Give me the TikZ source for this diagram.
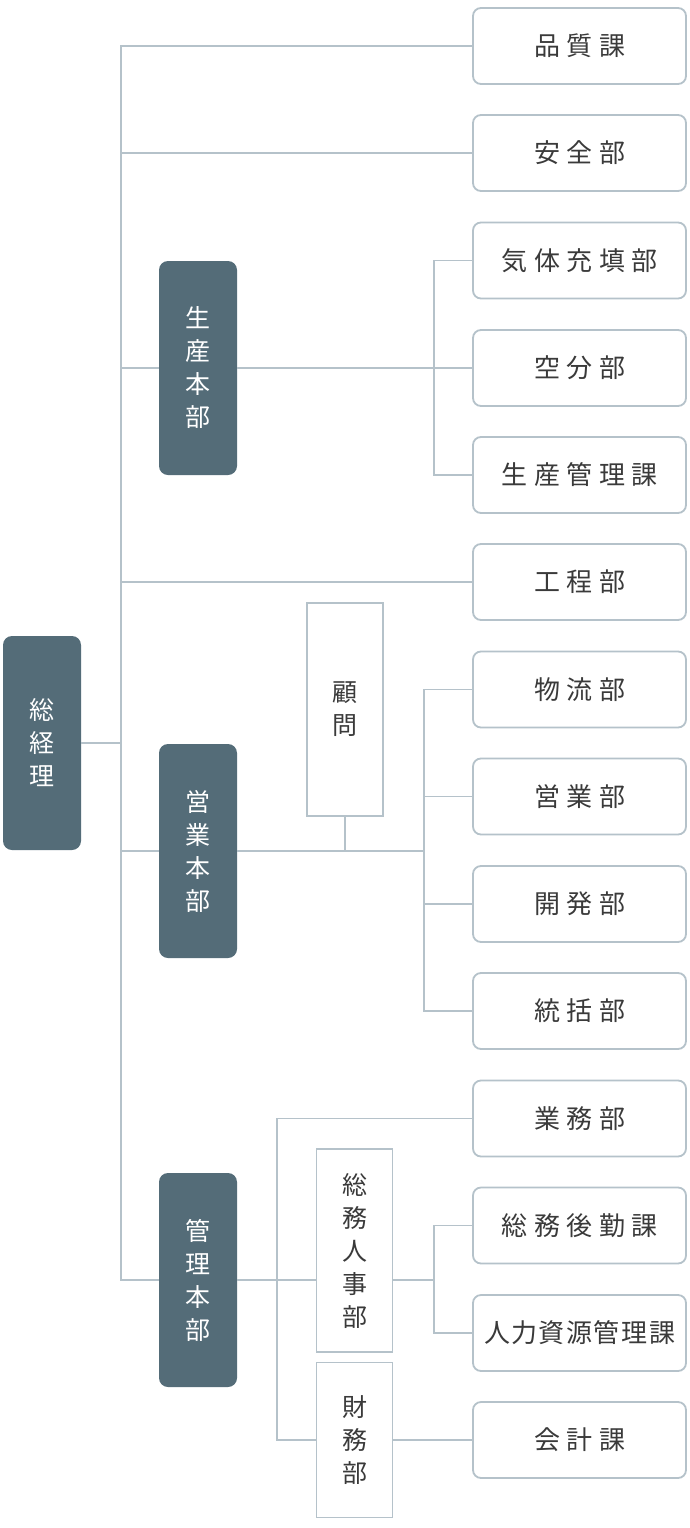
\documentclass[tikz,border=0pt]{standalone}
\usepackage{fontspec}
\setmainfont{Noto Sans CJK JP}
\definecolor{dk}{HTML}{546C78}
\definecolor{ln}{HTML}{B5C2CA}
\definecolor{tc}{HTML}{3A3A3A}
\newcommand\ks{\kern6.5pt\relax}
\newcommand\kt{\kern1.5pt\relax}
\tikzset{
  rbox/.style={draw=ln, line width=1.8pt, rounded corners=8pt, minimum width=213pt, minimum height=76pt, inner sep=0pt, text=tc, font=\fontsize{26}{30}\selectfont},
  dbox/.style={fill=dk, rounded corners=9pt, minimum width=78pt, minimum height=214pt, inner sep=0pt, text=white, align=center, font=\fontsize{25}{33}\selectfont},
  sbox/.style={draw=ln, line width=1.8pt, minimum width=76pt, inner sep=0pt, text=tc, align=center, font=\fontsize{25}{33}\selectfont},
  conn/.style={draw=ln, line width=1.8pt}
}
\begin{document}
\begin{tikzpicture}[x=1pt,y=-1pt]
\useasboundingbox[fill=white] (0,0) rectangle (690,1528);
% right boxes
\node[rbox] (pz) at (579.5,46) {品\ks{}質\ks{}課};
\node[rbox] (aq) at (579.5,153) {安\ks{}全\ks{}部};
\node[rbox] (qt) at (579.5,260.5) {気\ks{}体\ks{}充\ks{}填\ks{}部};
\node[rbox] (kf) at (579.5,368) {空\ks{}分\ks{}部};
\node[rbox] (sg) at (579.5,475) {生\ks{}産\ks{}管\ks{}理\ks{}課};
\node[rbox] (gc) at (579.5,582) {工\ks{}程\ks{}部};
\node[rbox] (wl) at (579.5,689.5) {物\ks{}流\ks{}部};
\node[rbox] (yb) at (579.5,796.5) {営\ks{}業\ks{}部};
\node[rbox] (kb) at (579.5,904) {開\ks{}発\ks{}部};
\node[rbox] (tk) at (579.5,1011) {統\ks{}括\ks{}部};
\node[rbox] (yw) at (579.5,1118.5) {業\ks{}務\ks{}部};
\node[rbox] (zh) at (579.5,1225.5) {総\ks{}務\ks{}後\ks{}勤\ks{}課};
\node[rbox] (rl) at (579.5,1333) {人\kt{}力\kt{}資\kt{}源\kt{}管\kt{}理\kt{}課};
\node[rbox] (kj) at (579.5,1440) {会\ks{}計\ks{}課};
% dark boxes
\node[dbox] (zj) at (42,743) {総\\経\\理};
\node[dbox] (sc) at (198,368) {生\\産\\本\\部};
\node[dbox] (yy) at (198,851) {営\\業\\本\\部};
\node[dbox] (gl) at (198,1280) {管\\理\\本\\部};
% plain boxes
\node[sbox, minimum height=213pt] (gw) at (345,709.5) {顧\\問};
\node[sbox, minimum height=203pt] (zr) at (354.5,1250.5) {総\\務\\人\\事\\部};
\node[sbox, minimum height=155pt] (cw) at (354.5,1440) {財\\務\\部};
% junction coordinates
\coordinate (T) at (121,743);
\coordinate (S) at (434,368);
\coordinate (Y) at (424,851);
\coordinate (G) at (277,1280);
\coordinate (H) at (434,1280);
% trunk
\draw[conn] (pz.west) -- (pz.west -| T) -- (gl.west -| T) -- (gl.west);
\draw[conn] (zj.east) -- (zj.east -| T);
\draw[conn] (aq.west) -- (aq.west -| T);
\draw[conn] (sc.west) -- (sc.west -| T);
\draw[conn] (gc.west) -- (gc.west -| T);
\draw[conn] (yy.west) -- (yy.west -| T);
% production
\draw[conn] (sc.east) -- (kf.west);
\draw[conn] (qt.west) -- (qt.west -| S) -- (sg.west -| S) -- (sg.west);
% sales
\draw[conn] (yy.east) -- (Y);
\draw[conn] (wl.west) -- (wl.west -| Y) -- (tk.west -| Y) -- (tk.west);
\draw[conn] (yb.west) -- (yb.west -| Y);
\draw[conn] (kb.west) -- (kb.west -| Y);
\draw[conn] (gw.south) -- (gw.south |- Y);
% management
\draw[conn] (gl.east) -- (gl.east -| zr.west);
\draw[conn] (yw.west) -- (yw.west -| G) -- (cw.west -| G) -- (cw.west);
\draw[conn] (H -| zr.east) -- (H);
\draw[conn] (zh.west) -- (zh.west -| H) -- (rl.west -| H) -- (rl.west);
\draw[conn] (cw.east) -- (cw.east -| kj.west);
\end{tikzpicture}
\end{document}
